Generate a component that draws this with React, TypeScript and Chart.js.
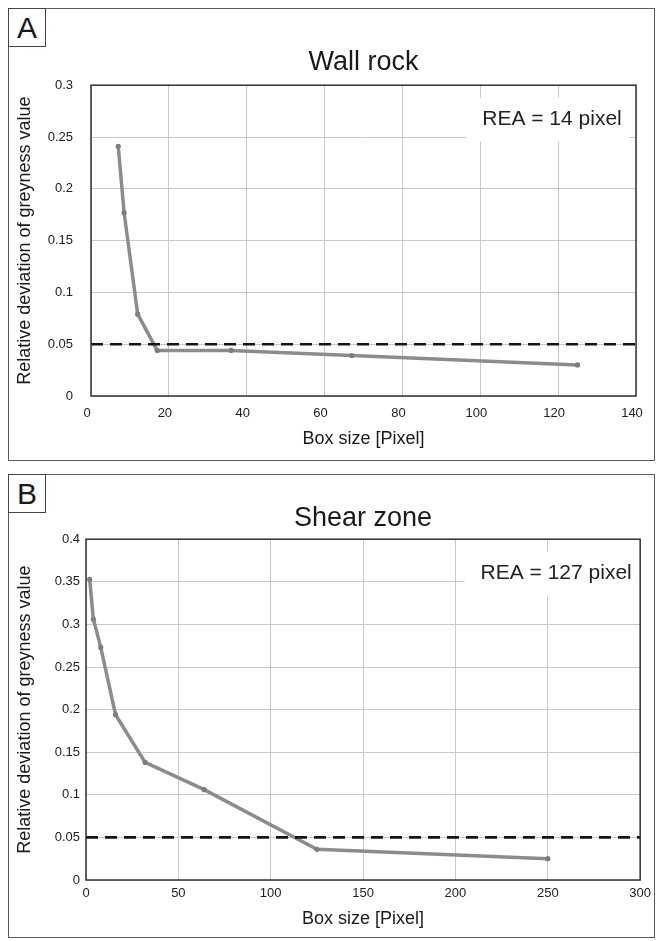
import React, { useEffect, useRef } from "react";
import { Chart, registerables } from "chart.js";

Chart.register(...registerables);

// ---------- data ----------
const wallBoxSize = [7, 8.5, 12, 17, 36, 67, 125];
const wallDeviation = [0.241, 0.177, 0.079, 0.044, 0.044, 0.039, 0.03];
const shearBoxSize = [2, 4, 8, 16, 32, 64, 125, 250];
const shearDeviation = [0.353, 0.306, 0.273, 0.194, 0.138, 0.106, 0.036, 0.025];
const thresholdDeviation = 0.05;
const wallXRange = [0, 140];
const wallXStep = 20;
const wallYRange = [0, 0.3];
const shearXRange = [0, 300];
const shearXStep = 50;
const shearYRange = [0, 0.4];
const yStep = 0.05;
const panelTitles = ["Wall rock", "Shear zone"];
const panelLetters = ["A", "B"];
const reaLabels = ["REA = 14 pixel", "REA = 127 pixel"];
const xAxisTitle = "Box size [Pixel]";
const yAxisTitle = "Relative deviation of greyness value";

const FONT = '"Liberation Sans", Arial, Helvetica, sans-serif';

const frameAndNote = {
  id: "frameAndNote",
  beforeDatasetsDraw(chart: any, _args: any, opts: any) {
    const { ctx, chartArea } = chart;
    ctx.save();
    ctx.font = `${opts.fontSize}px ${FONT}`;
    const w = ctx.measureText(opts.text).width;
    const cx = chartArea.right - opts.dxFromRight;
    const cy = chartArea.top + opts.dyFromTop;
    ctx.fillStyle = "#ffffff";
    ctx.fillRect(cx - w / 2 - 16, cy - 22, w + 23, 44);
    ctx.fillStyle = "#222222";
    ctx.textAlign = "center";
    ctx.textBaseline = "middle";
    ctx.fillText(opts.text, cx, cy);
    ctx.restore();
  },
  afterDraw(chart: any) {
    const { ctx, chartArea: a } = chart;
    ctx.save();
    ctx.strokeStyle = "#333333";
    ctx.lineWidth = 1.5;
    ctx.strokeRect(a.left, a.top, a.right - a.left, a.bottom - a.top);
    ctx.restore();
  },
};

type PanelCfg = {
  xs: number[];
  ys: number[];
  xRange: number[];
  xStep: number;
  yRange: number[];
  title: string;
  rea: string;
  height: number;
  yWidth: number;
  xHeight: number;
  rightPad: number;
  titlePadTop: number;
  titlePadBottom: number;
  yTickPad: number;
  xTickPad: number;
  xTickOffset: number;
  xTitlePadBottom: number;
};

function makeConfig(p: PanelCfg): any {
  return {
    type: "line",
    data: {
      datasets: [
        {
          data: [
            { x: p.xRange[0], y: thresholdDeviation },
            { x: p.xRange[1], y: thresholdDeviation },
          ],
          borderColor: "#151515",
          borderWidth: 2.6,
          borderDash: [12, 7],
          pointRadius: 0,
          fill: false,
        },
        {
          data: p.xs.map((x, i) => ({ x, y: p.ys[i] })),
          borderColor: "#8c8c8c",
          borderWidth: 3.5,
          pointRadius: 2.6,
          pointBackgroundColor: "#7d7d7d",
          pointBorderWidth: 0,
          fill: false,
          tension: 0,
        },
      ],
    },
    options: {
      responsive: false,
      animation: false,
      devicePixelRatio: 1,
      layout: { padding: { left: 0, right: p.rightPad, top: 0, bottom: 0 } },
      plugins: {
        legend: { display: false },
        tooltip: { enabled: false },
        title: {
          display: true,
          text: p.title,
          fullSize: false,
          color: "#1a1a1a",
          font: { family: FONT, size: 27, weight: "normal", lineHeight: 1.2 },
          padding: { top: p.titlePadTop, bottom: p.titlePadBottom },
        },
        frameAndNote: { text: p.rea, fontSize: 21, dxFromRight: 84, dyFromTop: 34.5 },
      },
      scales: {
        x: {
          type: "linear",
          min: p.xRange[0],
          max: p.xRange[1],
          afterFit: (s: any) => {
            s.height = p.xHeight;
          },
          ticks: {
            stepSize: p.xStep,
            color: "#222222",
            padding: p.xTickPad,
            labelOffset: p.xTickOffset,
            maxRotation: 0,
            font: { family: FONT, size: 13 },
          },
          grid: { color: "#c8c8c8", lineWidth: 1, drawTicks: false },
          border: { display: false },
          title: {
            display: true,
            text: xAxisTitle,
            color: "#1a1a1a",
            font: { family: FONT, size: 18, lineHeight: 1.2 },
            padding: { top: 0, bottom: p.xTitlePadBottom },
          },
        },
        y: {
          type: "linear",
          min: p.yRange[0],
          max: p.yRange[1],
          afterFit: (s: any) => {
            s.width = p.yWidth;
          },
          ticks: {
            stepSize: yStep,
            color: "#222222",
            padding: p.yTickPad,
            font: { family: FONT, size: 13 },
            callback: (v: any) => String(Number(Number(v).toFixed(2))),
          },
          grid: { color: "#c8c8c8", lineWidth: 1, drawTicks: false },
          border: { display: false },
          title: {
            display: true,
            text: yAxisTitle,
            color: "#1a1a1a",
            font: { family: FONT, size: 18, lineHeight: 1.2 },
            padding: { top: 14, bottom: 0 },
          },
        },
      },
    },
    plugins: [frameAndNote],
  };
}

const panelA: PanelCfg = {
  xs: wallBoxSize,
  ys: wallDeviation,
  xRange: wallXRange,
  xStep: wallXStep,
  yRange: wallYRange,
  title: panelTitles[0],
  rea: reaLabels[0],
  height: 466,
  yWidth: 91,
  xHeight: 70,
  rightPad: 21,
  titlePadTop: 46.4,
  titlePadBottom: 6.4,
  yTickPad: 18,
  xTickPad: 9.5,
  xTickOffset: -4,
  xTitlePadBottom: 16.2,
};

const panelB: PanelCfg = {
  xs: shearBoxSize,
  ys: shearDeviation,
  xRange: shearXRange,
  xStep: shearXStep,
  yRange: shearYRange,
  title: panelTitles[1],
  rea: reaLabels[1],
  height: 475,
  yWidth: 86,
  xHeight: 61,
  rightPad: 14,
  titlePadTop: 36.4,
  titlePadBottom: 4.4,
  yTickPad: 6,
  xTickPad: 6,
  xTickOffset: 0,
  xTitlePadBottom: 11,
};

function Panel({ cfg, top, letter, frameBottom }: { cfg: PanelCfg; top: number; letter: string; frameBottom: number }) {
  const ref = useRef<HTMLCanvasElement | null>(null);
  useEffect(() => {
    if (!ref.current) return;
    const chart = new Chart(ref.current, makeConfig(cfg));
    return () => chart.destroy();
  }, [cfg]);
  const frameTop = top + 8;
  return (
    <>
      <div
        style={{
          position: "absolute",
          left: 8,
          top: frameTop,
          width: 647,
          height: frameBottom - frameTop,
          border: "1.3px solid #5a5a5a",
          boxSizing: "border-box",
        }}
      />
      <div
        style={{
          position: "absolute",
          left: 8,
          top: frameTop,
          width: 38,
          height: 39,
          border: "1.3px solid #444",
          boxSizing: "border-box",
          fontFamily: FONT,
          fontSize: 30,
          lineHeight: "37px",
          textAlign: "center",
          color: "#1a1a1a",
        }}
      >
        {letter}
      </div>
      <canvas
        ref={ref}
        width={657}
        height={cfg.height}
        style={{ position: "absolute", left: 0, top, width: 657, height: cfg.height }}
      />
    </>
  );
}

export default function App() {
  return (
    <div style={{ position: "absolute", left: 0, top: 0, width: 657, height: 941, background: "#ffffff" }}>
      <Panel cfg={panelA} top={0} letter={panelLetters[0]} frameBottom={461} />
      <Panel cfg={panelB} top={466} letter={panelLetters[1]} frameBottom={938} />
    </div>
  );
}
